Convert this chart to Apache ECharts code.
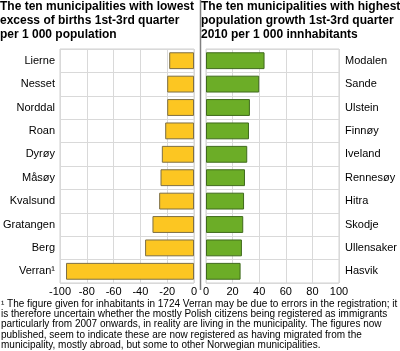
<!DOCTYPE html>
<html>
<head>
<meta charset="utf-8">
<script src="https://cdn.jsdelivr.net/npm/echarts@6/dist/echarts.min.js"></script>
<style>
  html, body { margin: 0; padding: 0; background: #fff; }
  #chart { width: 400px; height: 351px; }
</style>
</head>
<body>
<div id="chart"></div>
<script>
// left panel: lowest excess of births
const lowNames = ['Lierne', 'Nesset', 'Norddal', 'Roan', 'Dyrøy', 'Måsøy', 'Kvalsund', 'Gratangen', 'Berg', 'Verran¹'];
const lowValues = [-18.5, -20, -20, -21.5, -24, -25, -26, -31, -36.5, -95.5];

// right panel: highest population growth
const highNames = ['Modalen', 'Sande', 'Ulstein', 'Finnøy', 'Iveland', 'Rennesøy', 'Hitra', 'Skodje', 'Ullensaker', 'Hasvik'];
const highValues = [44, 40, 33, 32.3, 31, 29.3, 28.6, 28, 27, 26];

const leftTitle = 'The ten municipalities with lowest\nexcess of births 1st-3rd quarter\nper 1 000 population';
const rightTitle = 'The ten municipalities with highest\npopulation growth 1st-3rd quarter\n2010 per 1 000 innhabitants';
const footnote = '¹ The figure given for inhabitants in 1724 Verran may be due to errors in the registration; it\n' +
  'is therefore uncertain whether the mostly Polish citizens being registered as immigrants\n' +
  'particularly from 2007 onwards, in reality are living in the municipality. The figures now\n' +
  'published, seem to indicate these are now registered as having migrated from the\n' +
  'municipality, mostly abroad, but some to other Norwegian municipalities.';

const font = 'Liberation Sans, Arial, sans-serif';

const myChart = echarts.init(document.getElementById('chart'));

const option = {
  animation: false,
  textStyle: { fontFamily: font },
  title: [
    {
      text: leftTitle, left: 0, top: 0, padding: 0,
      textStyle: { fontSize: 12, fontWeight: 'bold', color: '#000', lineHeight: 14, fontFamily: font }
    },
    {
      text: rightTitle, left: 201, top: 0, padding: 0,
      textStyle: { fontSize: 12, fontWeight: 'bold', color: '#000', lineHeight: 14, fontFamily: font }
    },
    {
      text: footnote, left: 1, top: 299, padding: 0,
      textStyle: { fontSize: 10, fontWeight: 'normal', color: '#000', lineHeight: 10.25, fontFamily: font }
    }
  ],
  grid: [
    { left: 60, right: 206, top: 49, height: 234, show: true, borderColor: '#d0d0d0', borderWidth: 1 },
    { left: 206, right: 60, top: 49, height: 234, show: true, borderColor: '#d0d0d0', borderWidth: 1 }
  ],
  xAxis: [
    {
      gridIndex: 0, type: 'value', min: -100, max: 0, interval: 20,
      axisLine: { show: false }, axisTick: { show: false },
      axisLabel: { color: '#000', fontSize: 11, margin: 3 },
      splitLine: { lineStyle: { color: '#d9d9d9' } }
    },
    {
      gridIndex: 1, type: 'value', min: 0, max: 100, interval: 20,
      axisLine: { show: false }, axisTick: { show: false },
      axisLabel: { color: '#000', fontSize: 11, margin: 3 },
      splitLine: { lineStyle: { color: '#d9d9d9' } }
    }
  ],
  yAxis: [
    {
      gridIndex: 0, type: 'category', data: lowNames, inverse: true,
      axisLine: { show: false }, axisTick: { show: false },
      axisLabel: { color: '#000', fontSize: 11, margin: 5 },
      splitLine: { show: true, lineStyle: { color: '#d9d9d9' } }
    },
    {
      gridIndex: 1, type: 'category', data: highNames, inverse: true, position: 'right',
      axisLine: { show: false }, axisTick: { show: false },
      axisLabel: { color: '#000', fontSize: 11, margin: 6 },
      splitLine: { show: true, lineStyle: { color: '#d9d9d9' } }
    }
  ],
  series: [
    {
      type: 'bar', xAxisIndex: 0, yAxisIndex: 0, data: lowValues,
      barCategoryGap: '28%',
      itemStyle: { color: '#fcc622', borderColor: '#7d6f45', borderWidth: 1 }
    },
    {
      type: 'bar', xAxisIndex: 1, yAxisIndex: 1, data: highValues,
      barCategoryGap: '28%',
      itemStyle: { color: '#6cad27', borderColor: '#3f6a1c', borderWidth: 1 }
    }
  ],
  graphic: [
    {
      type: 'line',
      shape: { x1: 200.5, y1: 0, x2: 200.5, y2: 290 },
      style: { stroke: '#808080', lineWidth: 1.5 }
    }
  ]
};

myChart.setOption(option);
</script>
</body>
</html>
